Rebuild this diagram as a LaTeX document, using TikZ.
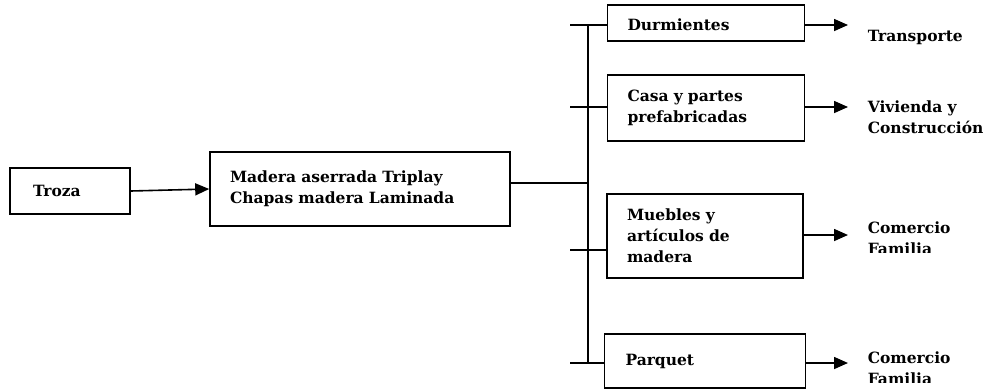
\documentclass[tikz,border=0pt]{standalone}
\usepackage{fontspec}
\setmainfont{DejaVu Serif}
\usetikzlibrary{arrows.meta}

\tikzset{every picture/.style={line width=1.6pt}}
\tikzset{
  caja/.style={draw, line width=1.6pt, align=left, inner ysep=0pt,
    font=\bfseries\fontsize{15.5}{21}\selectfont},
  rotulo/.style={anchor=west, align=left, inner sep=0pt,
    font=\bfseries\fontsize{15.5}{21}\selectfont},
  flecha/.style={-{Triangle[length=14pt,width=12pt]}}
}

\begin{document}
\begin{tikzpicture}[x=1pt,y=1pt,yscale=-1,xscale=1]
\useasboundingbox (0,0) rectangle (988,389);

%Shape: Rectangle [troza]
\node (troza) at (70,191) [caja, inner xsep=23pt, text width=74pt, minimum height=46pt] {Troza};
%Shape: Rectangle [madera]
\node (madera) at (360,189) [caja, inner xsep=20pt, text width=260pt, minimum height=74pt] {Madera aserrada Triplay\\Chapas madera Laminada};

%Shape: Rectangle [durmientes]
\node (durm) at (706,23) [caja, inner xsep=20pt, text width=157pt, minimum height=36pt, text height=16pt] {Durmientes};
%Shape: Rectangle [casa]
\node (casa) at (706,108) [caja, inner xsep=20pt, text width=157pt, minimum height=66pt] {Casa y partes\\prefabricadas};
%Shape: Rectangle [muebles]
\node (mueb) at (705,236) [caja, inner xsep=20pt, text width=156pt, minimum height=84pt] {Muebles y\\artículos de\\madera};
%Shape: Rectangle [parquet]
\node (parq) at (705,361) [caja, inner xsep=21pt, text width=159pt, minimum height=54pt] {Parquet};

% Text Node
\node (transp) at (867,37) [rotulo] {Transporte};
% Text Node
\node (vivi) at (867,117) [rotulo] {Vivienda y\\Construcción};
% Text Node
\begin{scope}
\clip (850,200) rectangle (988,252);
\node (comer1) at (867,238) [rotulo] {Comercio\\Familia};
\end{scope}
% Text Node
\begin{scope}
\clip (850,330) rectangle (988,382);
\node (comer2) at (867,368) [rotulo] {Comercio\\Familia};
\end{scope}

%Straight Lines [troza to madera]
\draw [flecha] (troza.east) -- (madera.west);

%Straight Lines [bus]
\coordinate (hub) at (588,183);
\coordinate (bustop) at (588,25);
\coordinate (busbot) at (588,363);
\draw (madera.east |- hub) -- (hub);
\draw (bustop) -- (busbot);

%Straight Lines [ticks]
\coordinate (t1) at (570,25);
\coordinate (t2) at (570,107);
\coordinate (t3) at (570,250);
\coordinate (t4) at (570,363);
\draw (t1) -- (t1 -| durm.west);
\draw (t2) -- (t2 -| casa.west);
\draw (t3) -- (t3 -| mueb.west);
\draw (t4) -- (t4 -| parq.west);

%Straight Lines [arrows out]
\coordinate (a1) at (848,25);
\coordinate (a2) at (848,107);
\coordinate (a3) at (848,235);
\coordinate (a4) at (848,363);
\draw [flecha] (a1 -| durm.east) -- (a1);
\draw [flecha] (a2 -| casa.east) -- (a2);
\draw [flecha] (a3 -| mueb.east) -- (a3);
\draw [flecha] (a4 -| parq.east) -- (a4);

\end{tikzpicture}
\end{document}
